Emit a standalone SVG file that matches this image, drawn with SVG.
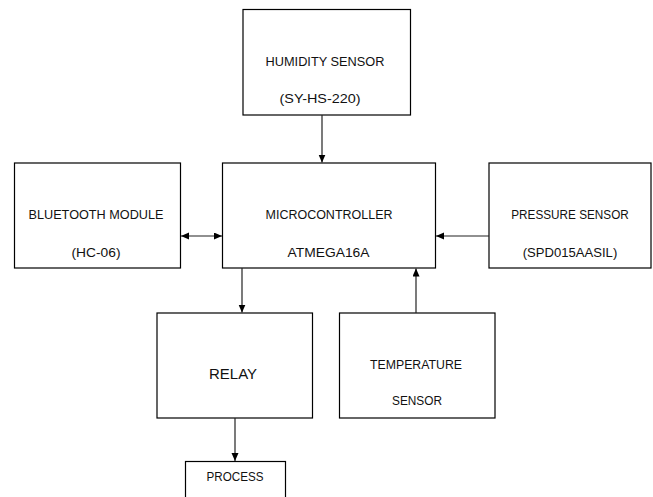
<svg xmlns="http://www.w3.org/2000/svg" width="653" height="497" viewBox="0 0 653 497">
<style>
.box{fill:#fff;stroke:#000;stroke-width:1.2}
.t{font-family:"Liberation Sans",Arial,sans-serif;font-size:12.5px;fill:#111;text-anchor:middle}
.big{font-family:"Liberation Sans",Arial,sans-serif;font-size:15.5px;fill:#111;text-anchor:middle}
.c{stroke:#222;stroke-width:1.2;fill:none}
</style>
<defs>
<marker id="ah" markerUnits="userSpaceOnUse" markerWidth="9" markerHeight="8" refX="8" refY="3.5" orient="auto-start-reverse">
<path d="M0,0 L8,3.5 L0,7 z" fill="#000"/>
</marker>
</defs>
<rect width="653" height="497" fill="#fff"/>
<g id="humidity">
<rect class="box" x="243" y="9.5" width="167.5" height="105.5"/>
<text class="t" x="325" y="66" textLength="119" lengthAdjust="spacingAndGlyphs">HUMIDITY SENSOR</text>
<text class="t" x="320" y="103" textLength="81" lengthAdjust="spacingAndGlyphs">(SY-HS-220)</text>
</g>
<g id="bluetooth">
<rect class="box" x="14.5" y="163" width="166" height="105"/>
<text class="t" x="96" y="219" textLength="135" lengthAdjust="spacingAndGlyphs">BLUETOOTH MODULE</text>
<text class="t" x="96" y="257" textLength="49" lengthAdjust="spacingAndGlyphs">(HC-06)</text>
</g>
<g id="micro">
<rect class="box" x="222.5" y="163" width="213" height="105"/>
<text class="t" x="329" y="219" textLength="127" lengthAdjust="spacingAndGlyphs">MICROCONTROLLER</text>
<text class="t" x="328.5" y="257" textLength="82" lengthAdjust="spacingAndGlyphs">ATMEGA16A</text>
</g>
<g id="pressure">
<rect class="box" x="489" y="163" width="162" height="105"/>
<text class="t" x="570" y="219" textLength="117.5" lengthAdjust="spacingAndGlyphs">PRESSURE SENSOR</text>
<text class="t" x="570" y="257" textLength="94.5" lengthAdjust="spacingAndGlyphs">(SPD015AASIL)</text>
</g>
<g id="relay">
<rect class="box" x="157" y="313" width="155.5" height="105"/>
<text class="big" x="233" y="379" textLength="48" lengthAdjust="spacingAndGlyphs">RELAY</text>
</g>
<g id="temperature">
<rect class="box" x="339.5" y="313" width="155.5" height="105"/>
<text class="t" x="416" y="369" textLength="92" lengthAdjust="spacingAndGlyphs">TEMPERATURE</text>
<text class="t" x="417" y="405" textLength="50" lengthAdjust="spacingAndGlyphs">SENSOR</text>
</g>
<g id="process">
<rect class="box" x="185.5" y="461.5" width="100" height="60"/>
<text class="t" x="235" y="481" textLength="57" lengthAdjust="spacingAndGlyphs">PROCESS</text>
</g>
<g id="connectors">
<line class="c" x1="322" y1="115" x2="322" y2="162.5" marker-end="url(#ah)"/>
<line class="c" x1="181" y1="236" x2="222" y2="236" marker-start="url(#ah)" marker-end="url(#ah)"/>
<line class="c" x1="489" y1="236" x2="436" y2="236" marker-end="url(#ah)"/>
<line class="c" x1="242" y1="268" x2="242" y2="312.5" marker-end="url(#ah)"/>
<line class="c" x1="416" y1="313" x2="416" y2="268.5" marker-end="url(#ah)"/>
<line class="c" x1="235" y1="418" x2="235" y2="461" marker-end="url(#ah)"/>
</g>
</svg>
